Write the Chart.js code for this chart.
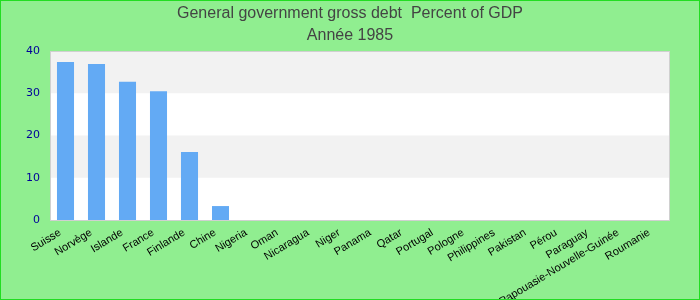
<!DOCTYPE html>
<html>
<head>
<meta charset="utf-8">
<script src="https://cdn.jsdelivr.net/npm/chart.js@4/dist/chart.umd.min.js"></script>
<style>
  body { margin: 0; }
  #wrap { width: 700px; height: 300px; box-sizing: border-box; border: 1px solid #22dd22; background: #90ee90; }
  #chart { display: block; }
</style>
</head>
<body>
<div id="wrap"><canvas id="chart" width="698" height="298"></canvas></div>
<script>
// data
const titleLines = ['General government gross debt  Percent of GDP', 'Année 1985'];
const countries = ['Suisse', 'Norvège', 'Islande', 'France', 'Finlande', 'Chine', 'Nigeria', 'Oman',
    'Nicaragua', 'Niger', 'Panama', 'Qatar', 'Portugal', 'Pologne', 'Philippines', 'Pakistan',
    'Pérou', 'Paraguay', 'Papouasie-Nouvelle-Guinée', 'Roumanie'];
const debt = [37.4, 36.9, 32.7, 30.5, 16.1, 3.3, null, null, null, null, null, null, null, null,
    null, null, null, null, null, null];
const yTicks = [0, 10, 20, 30, 40];

// plot background with alternating bands
const bands = {
    id: 'bands',
    beforeDatasetsDraw(chart) {
        const ctx = chart.ctx;
        const area = chart.chartArea;
        const y = chart.scales.y;
        ctx.save();
        ctx.fillStyle = '#ffffff';
        ctx.fillRect(area.left, area.top, area.right - area.left, area.bottom - area.top);
        ctx.fillStyle = '#f2f2f2';
        for (let i = 0; i < yTicks.length - 1; i++) {
            if (i % 2 == 1) {
                const top = y.getPixelForValue(yTicks[i + 1]);
                const bot = y.getPixelForValue(yTicks[i]);
                ctx.fillRect(area.left, top, area.right - area.left, bot - top);
            }
        }
        ctx.strokeStyle = '#d0d0d0';
        ctx.lineWidth = 1;
        ctx.strokeRect(area.left + 0.5, area.top + 0.5, area.right - area.left - 1, area.bottom - area.top);
        ctx.restore();
    }
};

new Chart(document.getElementById('chart'), {
    type: 'bar',
    data: {
        labels: countries,
        datasets: [{
            data: debt,
            backgroundColor: 'rgb(99,170,244)',
            barPercentage: 0.55,
            categoryPercentage: 1
        }]
    },
    options: {
        responsive: false,
        animation: false,
        layout: { padding: { top: 1, right: 0, bottom: 0, left: 0 } },
        plugins: {
            legend: { display: false },
            tooltip: { enabled: false },
            title: {
                display: true,
                text: titleLines,
                color: '#444444',
                font: { family: 'Liberation Sans, Arial', size: 16, weight: 'normal', lineHeight: 1.375 },
                padding: { top: 1, bottom: 4 }
            }
        },
        scales: {
            x: {
                grid: { display: false, drawTicks: false },
                border: { display: false },
                ticks: {
                    color: '#000000',
                    font: { family: 'Liberation Sans, Arial', size: 11 },
                    minRotation: 31,
                    maxRotation: 31,
                    autoSkip: false,
                    padding: 3,
                    callback(v) { return countries[v] + '  '; }
                },
                afterFit(s) { s.height = 79; }
            },
            y: {
                min: 0,
                max: 40,
                grid: { display: false, drawTicks: false },
                border: { display: false },
                afterBuildTicks(s) { s.ticks = yTicks.map(v => ({ value: v })); },
                ticks: {
                    color: '#000099',
                    font: { family: 'DejaVu Sans', size: 11 },
                    padding: 10
                },
                afterFit(s) { s.width = 49; }
            },
            // empty right-hand spacer so the plot stops where the reference does
            yRight: {
                position: 'right',
                grid: { display: false, drawTicks: false },
                border: { display: false },
                ticks: { display: false },
                afterFit(s) { s.width = 29; }
            }
        }
    },
    plugins: [bands]
});
</script>
</body>
</html>
